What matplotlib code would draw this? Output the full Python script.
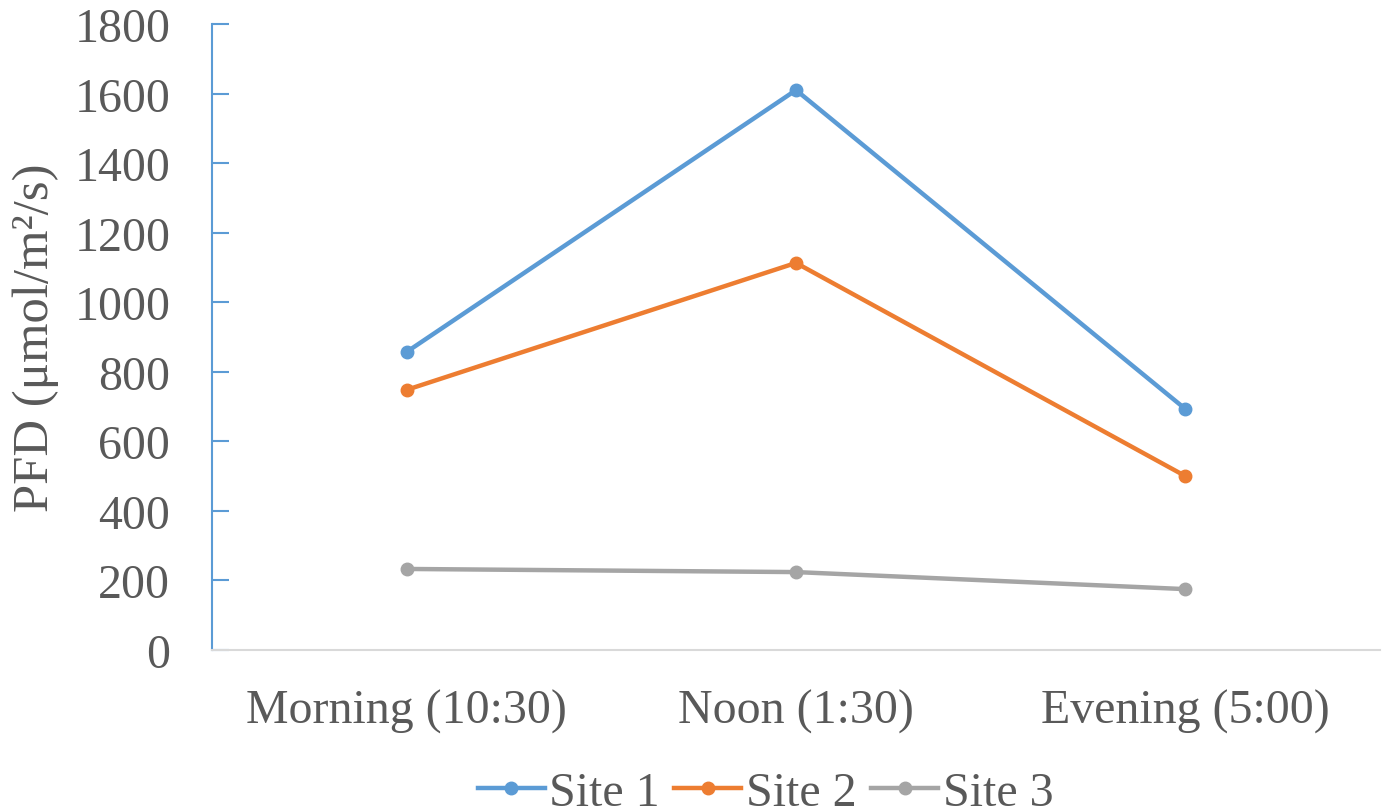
import matplotlib.pyplot as plt

# PFD readings per site over the day
periodos = ['Morning (10:30)', 'Noon (1:30)', 'Evening (5:00)']
site1 = [857, 1610, 693]
site2 = [748, 1113, 500]
site3 = [233, 224, 175]

series = [('Site 1', site1, '#5B9BD5'),
          ('Site 2', site2, '#ED7D31'),
          ('Site 3', site3, '#A5A5A5')]

plt.rcParams['font.family'] = ['Liberation Serif', 'DejaVu Serif']
gris = '#595959'
fs = 34.5

fig = plt.figure(figsize=(13.87, 8.12), dpi=100)
ax = fig.add_axes([0.1528, 0.1983, 0.8422, 0.7709])

x = list(range(len(periodos)))
for nombre, vals, color in series:
    ax.plot(x, vals, color=color, lw=3.2, marker='o', ms=9, label=nombre)

ax.set_xlim(-0.5, 2.5)
ax.set_ylim(0, 1800)
ax.set_yticks(range(0, 1801, 200))
ax.set_xticks(x)
ax.set_xticklabels(periodos)

ax.spines['top'].set_visible(False)
ax.spines['right'].set_visible(False)
ax.spines['left'].set_color('#5B9BD5')
ax.spines['left'].set_linewidth(1.5)
ax.spines['bottom'].set_color('#D9D9D9')
ax.spines['bottom'].set_linewidth(1.5)

ax.tick_params(axis='y', direction='in', length=12, width=1.5, color='#5B9BD5',
               labelsize=fs, labelcolor=gris, pad=30)
ax.tick_params(axis='x', length=0, labelsize=fs, labelcolor=gris, pad=28)

ax.set_ylabel('PFD (μmol/m²/s)', fontsize=36.5, color=gris, labelpad=11)

ax.legend(loc='upper center', bbox_to_anchor=(0.474, -0.193), ncol=3, frameon=False,
          fontsize=fs, labelcolor=gris, handlelength=1.4, handletextpad=0.1,
          columnspacing=0.3, borderaxespad=0, borderpad=0)

plt.savefig('out.png', dpi=100)
plt.close()
